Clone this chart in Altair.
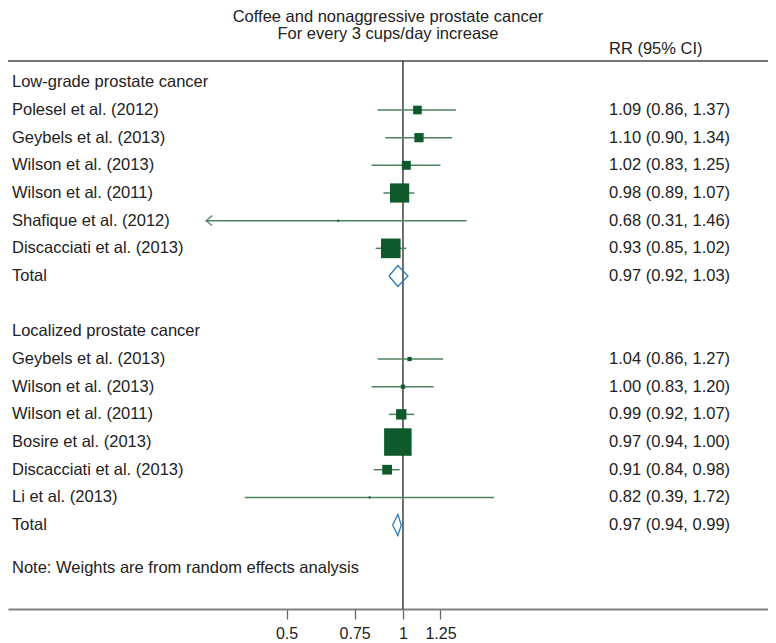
import altair as alt
import pandas as pd

# ---- data ----
low_studies = ["Polesel et al. (2012)", "Geybels et al. (2013)", "Wilson et al. (2013)",
               "Wilson et al. (2011)", "Shafique et al. (2012)", "Discacciati et al. (2013)"]
low_rr = [1.09, 1.10, 1.02, 0.98, 0.68, 0.93]
low_lo = [0.86, 0.90, 0.83, 0.89, 0.31, 0.85]
low_hi = [1.37, 1.34, 1.25, 1.07, 1.46, 1.02]
low_weight = [7.5, 8.5, 8.0, 36.9, 0.4, 38.5]
low_total = [0.97, 0.92, 1.03]

loc_studies = ["Geybels et al. (2013)", "Wilson et al. (2013)", "Wilson et al. (2011)",
               "Bosire et al. (2013)", "Discacciati et al. (2013)", "Li et al. (2013)"]
loc_rr = [1.04, 1.00, 0.99, 0.97, 0.91, 0.82]
loc_lo = [0.86, 0.83, 0.92, 0.94, 0.84, 0.39]
loc_hi = [1.27, 1.20, 1.07, 1.00, 0.98, 1.72]
loc_weight = [1.8, 1.8, 10.8, 75.6, 9.5, 0.4]
loc_total = [0.97, 0.94, 0.99]

groups = ["Low-grade prostate cancer", "Localized prostate cancer"]
arrow_left = ["Shafique et al. (2012)"]
note = "Note: Weights are from random effects analysis"
title_lines = ["Coffee and nonaggressive prostate cancer", "For every 3 cups/day increase"]
rr_header = "RR (95% CI)"
tick_values = [0.5, 0.75, 1, 1.25]

# ---- build tables ----
def fmt(r, l, h):
    return f"{r:.2f} ({l:.2f}, {h:.2f})"

study_rows, label_rows, total_rows = [], [], []
row = 0
for g, names, rr, lo, hi, w, tot in [
    (groups[0], low_studies, low_rr, low_lo, low_hi, low_weight, low_total),
    (groups[1], loc_studies, loc_rr, loc_lo, loc_hi, loc_weight, loc_total),
]:
    label_rows.append({"label": g, "row": row, "rrtext": ""})
    row += 1
    for n, r, l, h, ww in zip(names, rr, lo, hi, w):
        study_rows.append({"label": n, "rr": r, "lo": l, "hi": h, "weight": ww, "row": row,
                           "arrow": n in arrow_left and g == groups[0]})
        label_rows.append({"label": n, "row": row, "rrtext": fmt(r, l, h)})
        row += 1
    total_rows.append({"group": g, "rr": tot[0], "lo": tot[1], "hi": tot[2], "row": row})
    label_rows.append({"label": "Total", "row": row, "rrtext": fmt(*tot)})
    row += 2
label_rows.append({"label": note, "row": 17.55, "rrtext": ""})

studies = pd.DataFrame(study_rows)
labels = pd.DataFrame(label_rows)

dia = []
for t in total_rows:
    pts = [(t["lo"], t["row"]), (t["rr"], t["row"] - 0.38), (t["hi"], t["row"]),
           (t["rr"], t["row"] + 0.38), (t["lo"], t["row"])]
    for k, (xv, yv) in enumerate(pts):
        dia.append({"group": t["group"], "k": k, "x": xv, "y": yv})
diamonds = pd.DataFrame(dia)

FONT = "Liberation Sans"
FS = 16.5
TXT = "#222222"
W, H = 760, 601

xscale = alt.Scale(type="log", domain=[0.0953, 8.78], nice=False)
yscale = alt.Scale(domain=[-2.686, 19.034], reverse=True, nice=False, zero=False)

base = alt.Chart(studies)

ci = base.mark_rule(color="#4f8360", strokeWidth=1.5).encode(
    x=alt.X("lo:Q", scale=xscale,
            axis=alt.Axis(values=tick_values, format="~g", grid=False, title=None,
                          domainColor="#808080", domainWidth=2, tickColor="#666666",
                          tickWidth=1.3, tickSize=10, labelFontSize=16, labelFont=FONT,
                          labelColor=TXT, labelPadding=6)),
    x2="hi:Q",
    y=alt.Y("row:Q", scale=yscale, axis=None),
)

arrows = base.transform_filter("datum.arrow").mark_point(
    shape="M1,-0.85L0,0L1,0.85", filled=False, size=144, strokeWidth=1.5, color="#2f6b42"
).encode(x=alt.X("lo:Q", scale=xscale), y=alt.Y("row:Q", scale=yscale))

squares = base.mark_square(filled=True, opacity=1, color="#0f5a2c").encode(
    x=alt.X("rr:Q", scale=xscale),
    y=alt.Y("row:Q", scale=yscale),
    size=alt.Size("weight:Q", scale=alt.Scale(domain=[0, 100], range=[0, 1000]), legend=None),
)

diamond = alt.Chart(diamonds).mark_line(color="#2b7bba", strokeWidth=1.3).encode(
    x=alt.X("x:Q", scale=xscale),
    y=alt.Y("y:Q", scale=yscale),
    detail="group:N",
    order="k:Q",
)

one = pd.DataFrame({"v": [1]})
vline = alt.Chart(one).mark_rule(color="#222222", strokeWidth=1.3).encode(
    x=alt.X("v:Q", scale=xscale), y=alt.value(53), y2=alt.value(H)
)
topline = alt.Chart(one).mark_rule(color="#444444", strokeWidth=1.3).encode(
    x=alt.value(0), x2=alt.value(W), y=alt.value(53)
)

left_text = alt.Chart(labels).mark_text(align="left", baseline="middle", font=FONT,
                                        fontSize=FS, color=TXT).encode(
    x=alt.value(4), y=alt.Y("row:Q", scale=yscale), text="label:N"
)
right_text = alt.Chart(labels).mark_text(align="left", baseline="middle", font=FONT,
                                         fontSize=FS, color=TXT).encode(
    x=alt.value(601), y=alt.Y("row:Q", scale=yscale), text="rrtext:N"
)

def header(txt, px, py, al):
    return alt.Chart(pd.DataFrame({"t": [txt]})).mark_text(
        align=al, baseline="middle", font=FONT, fontSize=FS, color=TXT
    ).encode(x=alt.value(px), y=alt.value(py), text="t:N")

title1 = header(title_lines[0], 380, 9, "center")
title2 = header(title_lines[1], 380, 26, "center")
rrhead = header(rr_header, 601, 41, "left")

chart = alt.layer(
    topline, vline, ci, arrows, squares, diamond, left_text, right_text, title1, title2, rrhead
).properties(
    width=W, height=H, background="white",
    autosize=alt.AutoSizeParams(type="none"),
    padding={"left": 0, "top": 0, "right": 0, "bottom": 34},
).configure_view(stroke=None)

chart.save("out.html", embed_options={"renderer": "svg", "actions": False})
